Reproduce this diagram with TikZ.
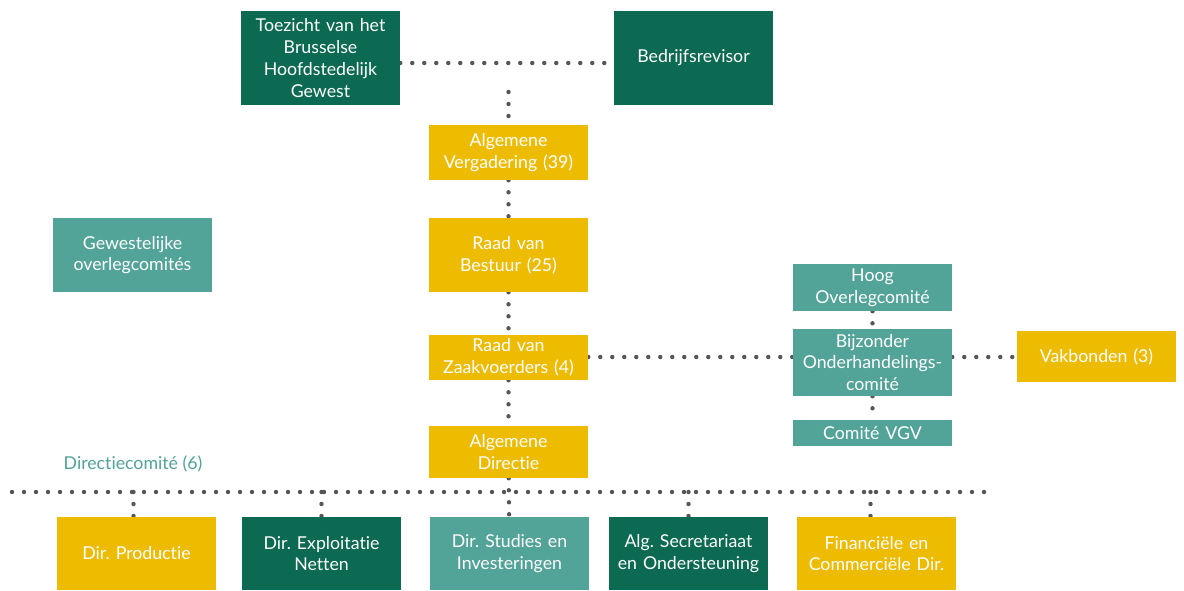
\documentclass[tikz,border=0pt]{standalone}
\usepackage{fontspec}
\setmainfont{Lato}[RawFeature=-liga]
\frenchspacing
\usetikzlibrary{backgrounds}
\definecolor{dgreen}{HTML}{0B6A51}
\definecolor{teal}{HTML}{52A398}
\definecolor{gold}{HTML}{EDBB00}
\definecolor{dotc}{HTML}{555555}
\begin{document}
\begin{tikzpicture}[x=0.75pt,y=-0.75pt,
  box/.style={inner sep=0pt,minimum width=119.25pt,text width=116pt,align=center,text=white,font=\fontsize{13.3}{16.3}\selectfont},
  dg/.style={box,fill=dgreen},
  tl/.style={box,fill=teal},
  gd/.style={box,fill=gold},
  dotline/.style={draw=dotc,line width=3.3pt,line cap=round,dash pattern=on 0pt off 9pt}]
\useasboundingbox (0,0) rectangle (1184,590);
% top
\node[dg,minimum height=70.5pt] (toe) at (320.5,58) {Toezicht van het\\Brusselse\\Hoofdstedelijk\\Gewest};
\node[dg,minimum height=70.5pt] (bed) at (693.5,58) {Bedrijfsrevisor};
\node[gd,minimum height=41.25pt] (alv) at (508.5,152.5) {Algemene\\Vergadering (39)};
\node[tl,minimum height=55.5pt] (gew) at (132.5,255) {Gewestelijke\\overlegcomités};
\node[gd,minimum height=55.5pt] (rvb) at (508.5,255) {Raad van\\Bestuur (25)};
\node[gd,minimum height=33.75pt] (rvz) at (508.5,357.5) {Raad van\\Zaakvoerders (4)};
\node[gd,minimum height=39pt] (ad) at (508.5,452) {Algemene\\Directie};
% right
\node[tl,minimum height=35.25pt] (hoog) at (872.5,287.5) {Hoog\\Overlegcomité};
\node[tl,minimum height=50.25pt] (boc) at (872.5,362.5) {Bijzonder\\Onderhandelings-\\comité};
\node[tl,minimum height=19.5pt] (vgv) at (872.5,433) {Comité VGV};
\node[gd,minimum height=38.25pt] (vak) at (1096.5,356.5) {Vakbonden (3)};
% label
\node[text=teal,font=\fontsize{13.3}{15}\selectfont,inner sep=0pt] (dc) at (133,464) {Directiecomité (6)};
% bottom
\node[gd,minimum height=54.75pt] (b1) at (136.5,553.5) {Dir. Productie};
\node[dg,minimum height=54.75pt] (b2) at (321.5,553.5) {Dir. Exploitatie\\Netten};
\node[tl,minimum height=54.75pt] (b3) at (509.5,553.5) {Dir. Studies en\\Investeringen};
\node[dg,minimum height=54.75pt] (b4) at (688.5,553.5) {Alg. Secretariaat\\en Ondersteuning};
\node[gd,minimum height=54.75pt] (b5) at (876.5,553.5) {Financiële en\\Commerciële Dir.};
% coordinates
\coordinate (hy) at (0,63);
\coordinate (my) at (0,357);
\coordinate (top) at (508.5,92);
\coordinate (ll) at (12,492);
\coordinate (lr) at (992,492);
\coordinate (c1) at (133.5,492);
\coordinate (c2) at (321.5,492);
\coordinate (c4) at (688.5,492);
\coordinate (c5) at (870.5,492);
\begin{scope}[on background layer]
\fill[white] (0,0) rectangle (1184,590);
\draw[dotline] (toe.east |- hy) -- (bed.west |- hy);
\draw[dotline] (top) -- (alv.north);
\draw[dotline] (alv) -- (rvb);
\draw[dotline] (rvb) -- (rvz);
\draw[dotline] (rvz) -- (ad);
\draw[dotline] (ad) -- (b3);
\draw[dotline] (rvz.east |- my) -- (boc.west |- my);
\draw[dotline] (boc.east |- my) -- (vak.west |- my);
\draw[dotline] (hoog) -- (boc);
\draw[dotline] (boc) -- (vgv);
\draw[dotline] (ll) -- (lr);
\draw[dotline] (c1) -- (b1.north -| c1);
\draw[dotline] (c2) -- (b2.north);
\draw[dotline] (c4) -- (b4.north);
\draw[dotline] (c5) -- (b5.north -| c5);
\end{scope}
\end{tikzpicture}
\end{document}
